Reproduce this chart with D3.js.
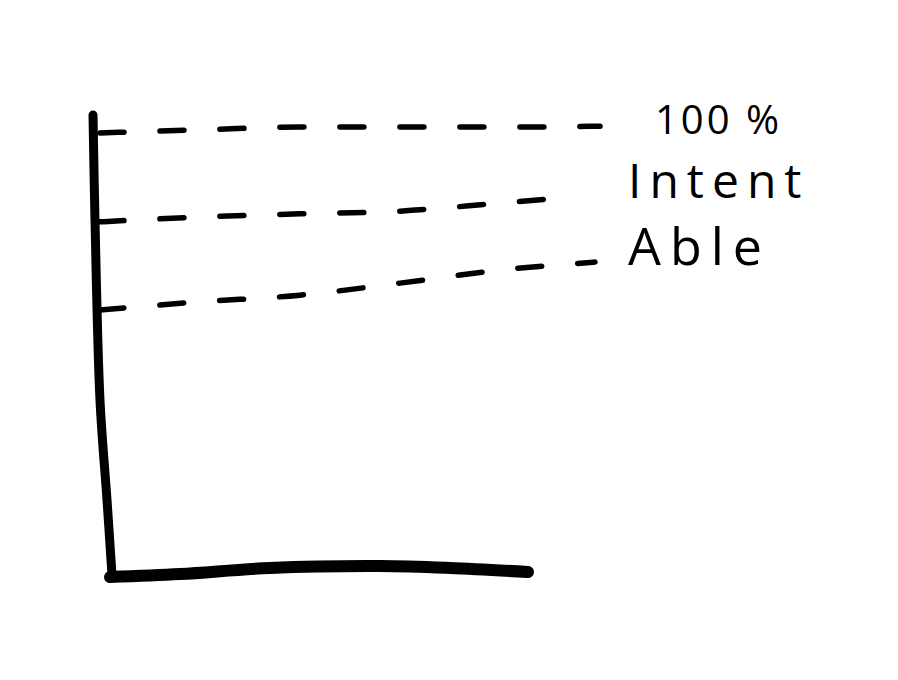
<!DOCTYPE html>
<html><head><meta charset="utf-8">
<script src="https://cdn.jsdelivr.net/npm/d3@7"></script>
<style>html,body{margin:0;padding:0;background:#fff;}</style>
</head><body>
<svg id="chart" width="898" height="680"></svg>
<script>
// ---- data ----
const xPositions = [0, 20, 40, 60, 80, 100];
const seriesNames = ["100 %", "Intent", "Able"];
const fullValues   = [98.9, 99.6, 100.2, 100.2, 100.2, 100.4];
const intentValues = [79.0, 80.1, 80.8, 81.4, 83.2, 84.6];
const ableValues   = [59.3, 61.1, 62.6, 65.3, 68.2, 70.0];
const intentX = [0, 20, 40, 60, 80, 95];
const ableX   = [0, 20, 40, 60, 80, 99];
// hand-drawn axes in data units
const yAxisPts = [[-1.4, 102.9], [-1, 79.4], [0, 39.1], [1.4, 16.8], [2.4, 0]];
const xAxisPts = [[2, -0.45], [16, 0.22], [34, 1.57], [56, 2.0], [70, 1.57], [85.6, 0.67]];

const svg = d3.select("#chart");
const x = d3.scaleLinear().domain([0, 100]).range([100, 600]);
const y = d3.scaleLinear().domain([0, 100]).range([575, 128]);

const axisLine = d3.line().x(d => x(d[0])).y(d => y(d[1])).curve(d3.curveCatmullRom);
svg.append("path").attr("d", axisLine(yAxisPts))
  .attr("fill", "none").attr("stroke", "#000").attr("stroke-width", 9).attr("stroke-linecap", "round");
svg.append("path").attr("d", axisLine(xAxisPts))
  .attr("fill", "none").attr("stroke", "#000").attr("stroke-width", 12).attr("stroke-linecap", "round");

const series = [
  {name: seriesNames[0], xs: xPositions, vals: fullValues, lx: 111, dy: 8, size: 40, ls: 3},
  {name: seriesNames[1], xs: intentX, vals: intentValues, lx: 105.6, dy: 1, size: 48, ls: 8},
  {name: seriesNames[2], xs: ableX, vals: ableValues, lx: 105.6, dy: 3, size: 52, ls: 9}
];
const line = d3.line().x(d => x(d[0])).y(d => y(d[1])).curve(d3.curveMonotoneX);
series.forEach(s => {
  const pts = s.xs.map((v, i) => [v, s.vals[i]]);
  svg.append("path").attr("d", line(pts))
    .attr("fill", "none").attr("stroke", "#000").attr("stroke-width", 5.5)
    .attr("stroke-linecap", "round").attr("stroke-dasharray", "24,36");
  svg.append("text")
    .attr("x", x(s.lx)).attr("y", y(s.vals[s.vals.length - 1]) + s.dy)
    .attr("font-family", "'Open Sans', sans-serif").attr("font-size", s.size)
    .attr("letter-spacing", s.ls).attr("fill", "#000")
    .text(s.name);
});
</script>
</body></html>
